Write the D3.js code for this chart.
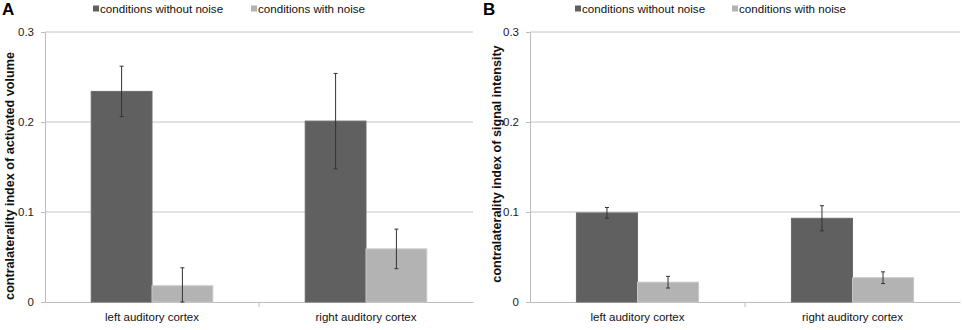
<!DOCTYPE html>
<html>
<head>
<meta charset="utf-8">
<script src="https://cdn.jsdelivr.net/npm/d3@7"></script>
<style>
  body { margin: 0; background: #fff; }
  svg text { font-family: "Liberation Sans", Arial, sans-serif; }
</style>
</head>
<body>
<div id="chart"></div>
<script>
// data
const categories = ["left auditory cortex", "right auditory cortex"];
const seriesNames = ["conditions without noise", "conditions with noise"];
const yTicks = [0, 0.1, 0.2, 0.3];

// panel A: activated volume
const volumeNoNoise = [0.234, 0.201];
const volumeNoNoiseErr = [0.028, 0.053];
const volumeNoise = [0.018, 0.059];
const volumeNoiseErr = [0.020, 0.022];

// panel B: signal intensity
const signalNoNoise = [0.099, 0.093];
const signalNoNoiseErr = [0.006, 0.014];
const signalNoise = [0.022, 0.027];
const signalNoiseErr = [0.0065, 0.0065];

const colors = ["#606060", "#b3b3b3"];

const width = 964, height = 330;
const svg = d3.select("#chart").append("svg")
  .attr("width", width)
  .attr("height", height);

function drawPanel(opts) {
  const g = svg.append("g");
  const x = d3.scaleBand().domain(categories).range([opts.left, opts.right]);
  const y = d3.scaleLinear().domain([0, 0.3]).range([302, 32]);
  const inner = d3.scaleBand().domain(seriesNames)
    .range([0, x.bandwidth()]).paddingOuter(0.76).paddingInner(0);

  // grid
  g.append("g").selectAll("line").data(yTicks.filter(d => d > 0)).join("line")
    .attr("x1", opts.left).attr("x2", opts.right)
    .attr("y1", d => y(d)).attr("y2", d => y(d))
    .attr("stroke", "#c4c4c4").attr("stroke-width", 1);

  // y axis
  const yAxis = g.append("g")
    .attr("transform", `translate(${opts.left},0)`)
    .call(d3.axisLeft(y).tickValues(yTicks).tickSize(4).tickPadding(7)
      .tickFormat(d => d === 0 ? "0" : d3.format(".1f")(d)));
  yAxis.select(".domain").attr("stroke", "#bcbcbc");
  yAxis.selectAll(".tick line").attr("stroke", "#bcbcbc");
  yAxis.selectAll("text").attr("font-size", 11.5).attr("fill", "#222");

  // x axis
  const xAxis = g.append("g")
    .attr("transform", `translate(0,${y(0)})`)
    .call(d3.axisBottom(x).tickSize(0).tickPadding(11));
  xAxis.select(".domain").attr("stroke", "#bcbcbc");
  xAxis.selectAll("text").attr("font-size", 11.5).attr("fill", "#111");
  // category dividers
  g.append("g").selectAll("line").data(categories.slice(1)).join("line")
    .attr("x1", d => x(d)).attr("x2", d => x(d))
    .attr("y1", y(0)).attr("y2", y(0) + 5)
    .attr("stroke", "#bcbcbc");

  const rows = [];
  categories.forEach((c, i) => {
    opts.series.forEach((s, j) => {
      rows.push({ cat: c, name: seriesNames[j], value: s.values[i], err: s.errs[i], color: colors[j] });
    });
  });

  g.append("g").selectAll("rect").data(rows).join("rect")
    .attr("x", d => x(d.cat) + inner(d.name))
    .attr("width", inner.bandwidth())
    .attr("y", d => y(d.value))
    .attr("height", d => y(0) - y(d.value))
    .attr("fill", d => d.color)
    .attr("stroke", d => d3.color(d.color).brighter(0.3))
    .attr("stroke-width", 1);

  const eb = g.append("g").selectAll("g").data(rows).join("g")
    .attr("stroke", "#333").attr("stroke-width", 1);
  const cx = d => x(d.cat) + inner(d.name) + inner.bandwidth() / 2;
  eb.append("line")
    .attr("x1", cx).attr("x2", cx)
    .attr("y1", d => y(d.value + d.err))
    .attr("y2", d => y(Math.max(0, d.value - d.err)));
  eb.append("line")
    .attr("x1", d => cx(d) - 2).attr("x2", d => cx(d) + 2)
    .attr("y1", d => y(d.value + d.err)).attr("y2", d => y(d.value + d.err));
  eb.append("line")
    .attr("x1", d => cx(d) - 2).attr("x2", d => cx(d) + 2)
    .attr("y1", d => y(Math.max(0, d.value - d.err)))
    .attr("y2", d => y(Math.max(0, d.value - d.err)));

  // y label
  g.append("text")
    .attr("transform", `translate(${opts.labelX},${opts.labelY}) rotate(-90)`)
    .attr("text-anchor", "middle")
    .attr("font-size", 12.6)
    .attr("font-weight", "bold")
    .attr("fill", "#111")
    .text(opts.yLabel);

  // panel letter
  g.append("text")
    .attr("x", opts.letterX).attr("y", 15)
    .attr("font-size", 17).attr("font-weight", "bold")
    .text(opts.letter);

  // legend
  const lg = g.append("g").selectAll("g").data(seriesNames).join("g")
    .attr("transform", (d, i) => `translate(${opts.legendX[i]},9)`);
  lg.append("rect").attr("x", 0).attr("y", -3.5).attr("width", 6).attr("height", 6)
    .attr("fill", (d, i) => colors[i]);
  lg.append("text").attr("x", 7).attr("y", 0).attr("dy", "0.35em")
    .attr("font-size", 11.6).attr("fill", "#111").text(d => d);
}

drawPanel({
  left: 45, right: 473, labelX: 14, labelY: 176, letter: "A", letterX: 2,
  legendX: [93, 251],
  yLabel: "contralaterality index of activated volume",
  series: [
    { values: volumeNoNoise, errs: volumeNoNoiseErr },
    { values: volumeNoise, errs: volumeNoiseErr }
  ]
});

drawPanel({
  left: 530, right: 960, labelX: 501, labelY: 164, letter: "B", letterX: 483,
  legendX: [575, 732],
  yLabel: "contralaterality index of signal intensity",
  series: [
    { values: signalNoNoise, errs: signalNoNoiseErr },
    { values: signalNoise, errs: signalNoiseErr }
  ]
});
</script>
</body>
</html>
